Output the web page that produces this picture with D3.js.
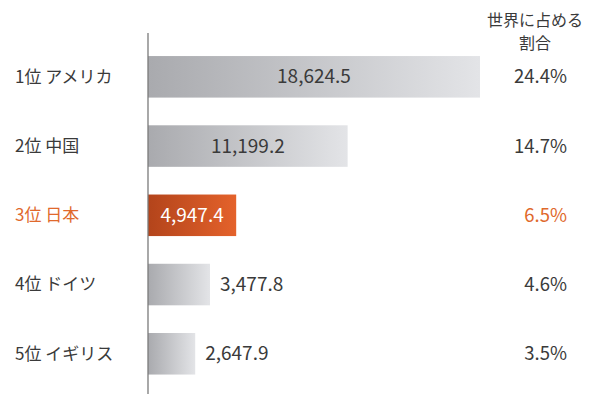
<!DOCTYPE html>
<html><head><meta charset="utf-8">
<script src="https://cdn.jsdelivr.net/npm/d3@7"></script>
<style>
html,body{margin:0;padding:0;background:#fff;}
svg{display:block;font-family:"Noto Sans CJK JP","Noto Sans",sans-serif;}
</style></head>
<body>
<svg id="chart" width="595" height="396"></svg>
<script>
const categories = ["1位 アメリカ","2位 中国","3位 日本","4位 ドイツ","5位 イギリス"];
const values = [18624.5, 11199.2, 4947.4, 3477.8, 2647.9];
const shares = ["24.4%","14.7%","6.5%","4.6%","3.5%"];
const highlight = "3位 日本";
const headerLines = ["世界に占める","割合"];

const svg = d3.select("#chart");
const x0 = 148;
const x = d3.scaleLinear().domain([0, 18624.5]).range([x0, 480]);
const y = d3.scaleBand().domain(categories).range([42.2, 388.4]).paddingInner(0.4).paddingOuter(0.2);

const defs = svg.append("defs");
function grad(id, c0, c1){
  const g = defs.append("linearGradient").attr("id", id).attr("x1","0%").attr("x2","100%").attr("y1","0%").attr("y2","0%");
  g.append("stop").attr("offset","0%").attr("stop-color",c0);
  g.append("stop").attr("offset","100%").attr("stop-color",c1);
}
grad("gGray","#a9aaae","#e3e4e7");
grad("gOrange","#b3441b","#e4622b");

const orange = "#e0692c";
const textCol = "#3a3a3a";

const rows = categories.map((c,i)=>({cat:c, v:values[i], s:shares[i], hi:c===highlight}));

svg.selectAll("rect.bar").data(rows).join("rect").attr("class","bar")
  .attr("x", x0).attr("y", d=>y(d.cat))
  .attr("width", d=>x(d.v)-x0).attr("height", y.bandwidth())
  .attr("fill", d=>d.hi?"url(#gOrange)":"url(#gGray)");

// axis line
svg.append("line").attr("x1",x0).attr("x2",x0).attr("y1",33).attr("y2",394)
  .attr("stroke","#7a7a7a").attr("stroke-width",1.3);

// category labels
svg.selectAll("text.cat").data(rows).join("text").attr("class","cat")
  .attr("x",15).attr("y",d=>y(d.cat)+y.bandwidth()/2).attr("dy","0.35em")
  .attr("font-size",17).attr("fill",d=>d.hi?orange:textCol).text(d=>d.cat);

// value labels
const fmt = d3.format(",.1f");
svg.selectAll("text.val").data(rows).join("text").attr("class","val")
  .attr("x", d=> (x(d.v)-x0) > 80 ? (x0+x(d.v))/2 : x(d.v)+10)
  .attr("text-anchor", d=> (x(d.v)-x0) > 80 ? "middle" : "start")
  .attr("y",d=>y(d.cat)+y.bandwidth()/2).attr("dy","0.35em")
  .attr("font-size",19).attr("fill",d=>d.hi?"#ffffff":textCol).text(d=>fmt(d.v));

// share labels
svg.selectAll("text.share").data(rows).join("text").attr("class","share")
  .attr("x",567).attr("text-anchor","end")
  .attr("y",d=>y(d.cat)+y.bandwidth()/2).attr("dy","0.35em")
  .attr("font-size",18.5).attr("fill",d=>d.hi?orange:textCol).text(d=>d.s);

// header
svg.selectAll("text.hdr").data(headerLines).join("text").attr("class","hdr")
  .attr("x",535).attr("text-anchor","middle")
  .attr("y",(d,i)=>20+i*23).attr("dy","0.35em")
  .attr("font-size",16).attr("fill",textCol).text(d=>d);
</script>
</body></html>
